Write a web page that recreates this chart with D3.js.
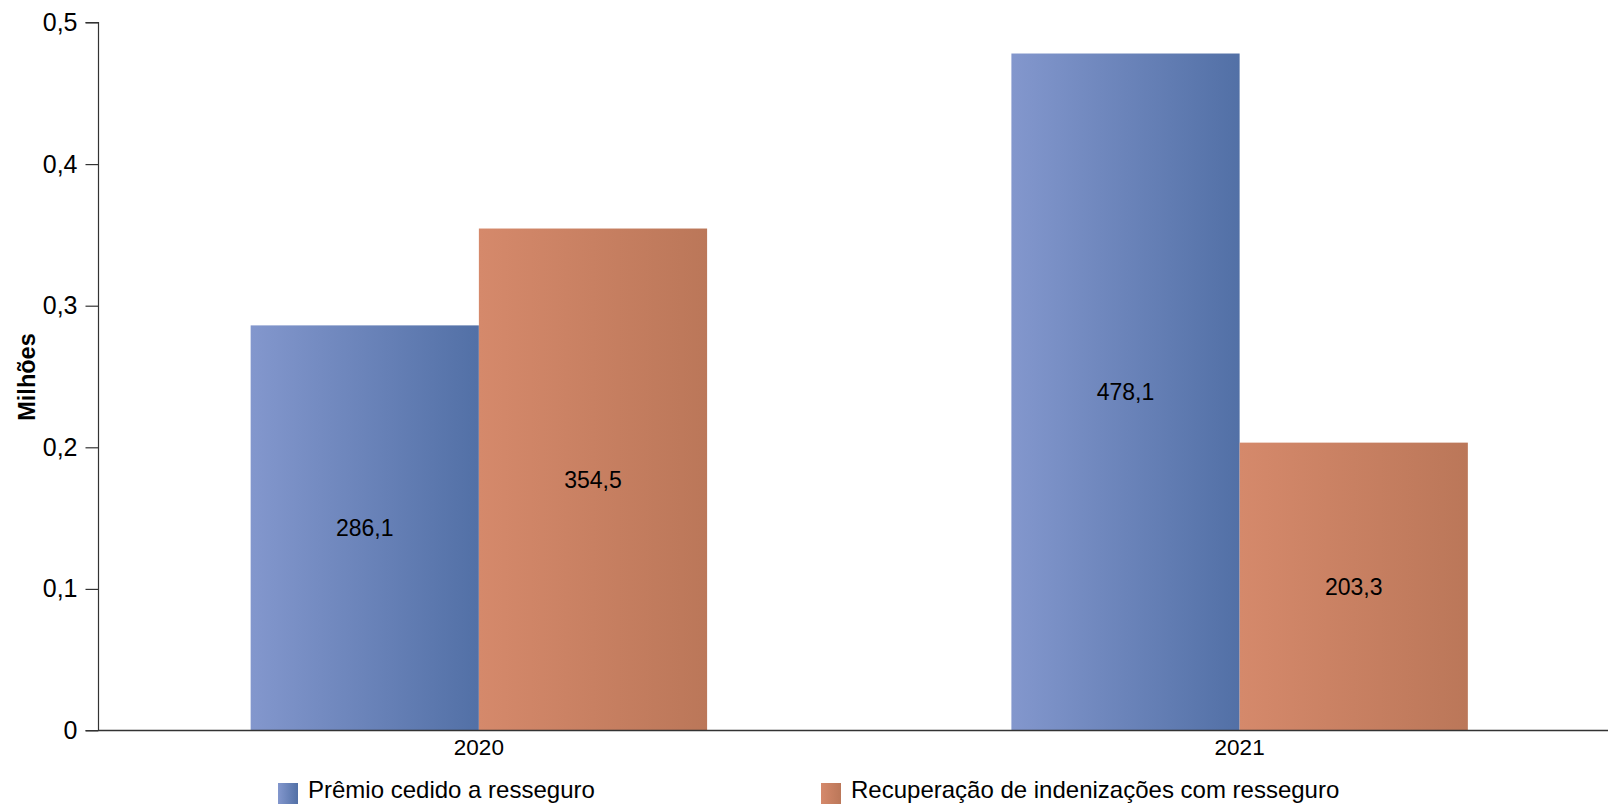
<!DOCTYPE html>
<html>
<head>
<meta charset="utf-8">
<script src="https://cdn.jsdelivr.net/npm/d3@7"></script>
<style>
  html, body { margin: 0; padding: 0; background: #fff; }
  svg { display: block; font-family: "Liberation Sans", Arial, sans-serif; }
</style>
</head>
<body>
<svg id="chart" width="1608" height="804"></svg>
<script>
const years = ["2020", "2021"];
const seriesNames = ["Prêmio cedido a resseguro", "Recuperação de indenizações com resseguro"];
const premio = [286.1, 478.1];
const recuperacao = [354.5, 203.3];
const yTicks = [0, 0.1, 0.2, 0.3, 0.4, 0.5];
const yLabel = "Milhões";

const svg = d3.select("#chart");
const W = 1608, H = 804;
const mLeft = 98.5, mTop = 22.5, mBottom = 730.5;

const x0 = d3.scaleBand().domain(years).range([mLeft, 1620]).padding(0);
const x1 = d3.scaleBand().domain(seriesNames)
  .range([x0.bandwidth() * 0.2, x0.bandwidth() * 0.8]).padding(0);
const y = d3.scaleLinear().domain([0, 0.5]).range([mBottom, mTop]);

const defs = svg.append("defs");
const grads = [
  { id: "gBlue", from: "#8397cd", to: "#5270a6" },
  { id: "gOrange", from: "#d5896b", to: "#bb7759" }
];
grads.forEach(g => {
  const lg = defs.append("linearGradient").attr("id", g.id)
    .attr("x1", "0%").attr("x2", "100%").attr("y1", "0%").attr("y2", "0%");
  lg.append("stop").attr("offset", "0%").attr("stop-color", g.from);
  lg.append("stop").attr("offset", "100%").attr("stop-color", g.to);
});
const fills = ["url(#gBlue)", "url(#gOrange)"];

const data = years.map((yr, i) => ({
  year: yr,
  values: [
    { s: seriesNames[0], v: premio[i], k: 0 },
    { s: seriesNames[1], v: recuperacao[i], k: 1 }
  ]
}));

const groups = svg.append("g").selectAll("g").data(data).join("g")
  .attr("transform", d => `translate(${x0(d.year)},0)`);

groups.selectAll("rect").data(d => d.values).join("rect")
  .attr("x", d => x1(d.s))
  .attr("width", x1.bandwidth())
  .attr("y", d => y(d.v / 1000))
  .attr("height", d => y(0) - y(d.v / 1000))
  .attr("fill", d => fills[d.k]);

groups.selectAll("text").data(d => d.values).join("text")
  .attr("x", d => x1(d.s) + x1.bandwidth() / 2)
  .attr("y", d => (y(d.v / 1000) + y(0)) / 2)
  .attr("dy", "0.35em")
  .attr("text-anchor", "middle")
  .attr("font-size", 23)
  .attr("fill", "#000")
  .text(d => d3.format(".1f")(d.v).replace(".", ","));

// Y axis
const yAxis = d3.axisLeft(y).tickValues(yTicks).tickSize(13).tickPadding(8)
  .tickFormat(d => d === 0 ? "0" : d3.format(".1f")(d).replace(".", ","));
const gy = svg.append("g").attr("transform", `translate(${mLeft},0)`).call(yAxis);
gy.select(".domain").attr("stroke", "#333").attr("stroke-width", 1.2).attr("d", `M-13,${mTop}H0V${mBottom}H-13`);
gy.selectAll(".tick line").attr("stroke", "#333").attr("stroke-width", 1.2);
gy.selectAll(".tick text").attr("font-size", 25).attr("fill", "#000").attr("font-family", "Liberation Sans, Arial, sans-serif");

// X axis
const xAxis = d3.axisBottom(x0).tickSize(0).tickPadding(9);
const gx = svg.append("g").attr("transform", `translate(0,${mBottom})`).call(xAxis);
gx.select(".domain").attr("stroke", "#333").attr("stroke-width", 1.5).attr("d", `M${mLeft},0H${W}`);
gx.selectAll(".tick text").attr("font-size", 22.5).attr("fill", "#000").attr("dy", "0.71em")
  .attr("font-family", "Liberation Sans, Arial, sans-serif");

// Y label
svg.append("text")
  .attr("transform", `translate(35,377) rotate(-90)`)
  .attr("text-anchor", "middle")
  .attr("font-size", 23.5)
  .attr("font-weight", "bold")
  .attr("fill", "#000")
  .text(yLabel);

// Legend
const legendX = [278, 821];
const leg = svg.append("g").selectAll("g").data(seriesNames).join("g")
  .attr("transform", (d, i) => `translate(${legendX[i]},783)`);
leg.append("rect").attr("width", 20).attr("height", 21).attr("fill", (d, i) => fills[i]);
leg.append("text").attr("x", 30).attr("y", 15).attr("font-size", 24).attr("fill", "#000").text(d => d);
</script>
</body>
</html>
